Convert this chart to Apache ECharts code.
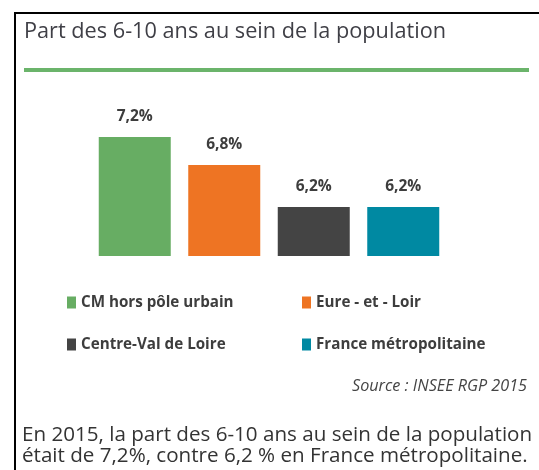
<!DOCTYPE html>
<html>
<head>
<meta charset="utf-8">
<script src="https://cdn.jsdelivr.net/npm/echarts@6/dist/echarts.min.js"></script>
<style>
  html, body { margin: 0; padding: 0; background: #fff; }
  #chart { width: 539px; height: 470px; }
</style>
</head>
<body>
<div id="chart"></div>
<script>
const categories = ['CM hors pôle urbain', 'Eure - et - Loir', 'Centre-Val de Loire', 'France métropolitaine']
const values = [7.2, 6.8, 6.2, 6.2]
const valueLabels = ['7,2%', '6,8%', '6,2%', '6,2%']
const colors = ['#67ad63', '#ee7423', '#444444', '#0089a2']
const titleText = 'Part des 6-10 ans au sein de la population'
const sourceText = 'Source : INSEE RGP 2015'
const noteLines = [
  'En 2015, la part des 6-10 ans au sein de la population',
  'était de 7,2%, contre 6,2 % en France métropolitaine.'
]

const font = '"Open Sans", Lato, sans-serif'
const chart = echarts.init(document.getElementById('chart'))

// une série par catégorie pour avoir une entrée de légende chacune
const series = categories.map((name, i) => ({
  name, type: 'bar',
  barWidth: 72, barGap: '-100%',
  data: values.map((v, j) => (j === i ? v : '-')),
  itemStyle: { color: colors[i] },
  label: {
    show: true, position: 'top', distance: 12,
    formatter: () => valueLabels[i],
    fontFamily: font, fontWeight: 'bold', fontSize: 15.5, color: '#3d3d3d'
  }
}))

// 4 légendes séparées pour aligner les colonnes
const legendPos = [[62, 290], [297, 290], [62, 332], [297, 332]]
const legend = categories.map((name, i) => ({
  data: [name], left: legendPos[i][0], top: legendPos[i][1],
  itemWidth: 9, itemHeight: 12, itemGap: 5, icon: 'rect',
  selectedMode: false,
  textStyle: { fontFamily: font, fontWeight: 'bold', fontSize: 15.2, color: '#3d3d3d' }
}))

const option = {
  animation: false,
  grid: { left: 90, right: 91, top: 81, bottom: 214 },
  xAxis: {
    type: 'category', data: categories,
    axisLine: { show: false }, axisTick: { show: false }, axisLabel: { show: false }
  },
  yAxis: {
    type: 'value', min: 5.5, max: 8,
    show: false, splitLine: { show: false }
  },
  legend,
  series,
  graphic: [
    { type: 'rect', shape: { x: 14, y: 12, width: 2, height: 458 }, style: { fill: '#000' } },
    { type: 'rect', shape: { x: 14, y: 12, width: 525, height: 2 }, style: { fill: '#000' } },
    { type: 'rect', shape: { x: 24, y: 68, width: 505, height: 4 }, style: { fill: '#6bb46b' } },
    {
      type: 'text', left: 24, top: 21,
      style: { text: titleText, fontFamily: font, fontSize: 21.7, fill: '#3f3f46' }
    },
    {
      type: 'text', right: 12, top: 378,
      style: { text: sourceText, fontFamily: font, fontStyle: 'italic', fontSize: 16.2, fill: '#444' }
    },
    {
      type: 'text', left: 22, top: 425,
      style: { text: noteLines[0], fontFamily: font, fontSize: 20.6, fill: '#333' }
    },
    {
      type: 'text', left: 22, top: 446,
      style: { text: noteLines[1], fontFamily: font, fontSize: 20.6, fill: '#333' }
    }
  ]
}
chart.setOption(option)
</script>
</body>
</html>
